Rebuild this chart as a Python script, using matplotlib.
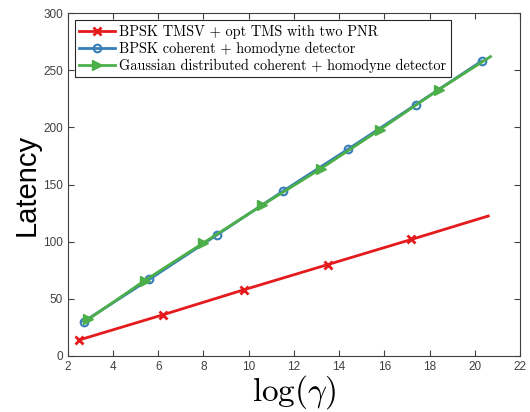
import numpy as np
import matplotlib
matplotlib.use("Agg")
import matplotlib.pyplot as plt

# data
red_x = [2.5, 6.2, 9.8, 13.5, 17.2, 20.6]
red_y = [14, 36, 58, 80, 102, 122.5]
blue_x = [2.7, 5.6, 8.6, 11.5, 14.4, 17.4, 20.3]
blue_y = [30, 67, 106, 144, 181, 220, 258]
green_x = [2.9, 5.4, 8.0, 10.6, 13.2, 15.8, 18.4, 20.7]
green_y = [32, 66, 99, 132, 164, 198, 233, 262]

labels = ["BPSK TMSV + opt TMS with two PNR",
          "BPSK coherent + homodyne detector",
          "Gaussian distributed coherent + homodyne detector"]

plt.rcParams['mathtext.fontset'] = 'cm'
plt.rcParams['font.family'] = ['Liberation Sans', 'DejaVu Sans']

fig = plt.figure(figsize=(5.3, 4.12), dpi=100)
ax = fig.add_axes([0.128, 0.136, 0.853, 0.832])

ax.plot(red_x, red_y, color='#e41a1c', lw=2, marker='x', ms=6, mew=2,
        markevery=list(range(5)), label=labels[0])
ax.plot(blue_x, blue_y, color='#377eb8', lw=2, marker='o', ms=5.5, mew=1.5,
        mfc='none', label=labels[1])
ax.plot(green_x, green_y, color='#4daf4a', lw=2, marker='>', ms=6.5,
        markevery=list(range(7)), label=labels[2])

ax.set_xlim(2, 22)
ax.set_ylim(0, 300)
ax.set_xticks(np.arange(2, 23, 2))
ax.set_yticks(np.arange(0, 301, 50))
ax.tick_params(direction='in', labelsize=8.5, length=4, top=True, right=True,
               colors='#404040', width=0.8)
for s in ax.spines.values():
    s.set_color('#404040')
    s.set_linewidth(0.8)

ax.set_xlabel(r'$\log(\gamma)$', fontsize=24, labelpad=0)
ax.set_ylabel('Latency', fontsize=21, labelpad=2)

leg = ax.legend(loc='upper left', prop={'family': 'cmr10', 'size': 10.3},
                fancybox=False, edgecolor='#262626', framealpha=1,
                borderpad=0.3, labelspacing=0.2, handlelength=2.5,
                handletextpad=0.3, borderaxespad=0.5)
leg.get_frame().set_linewidth(0.8)

fig.savefig('out.png', dpi=100)
